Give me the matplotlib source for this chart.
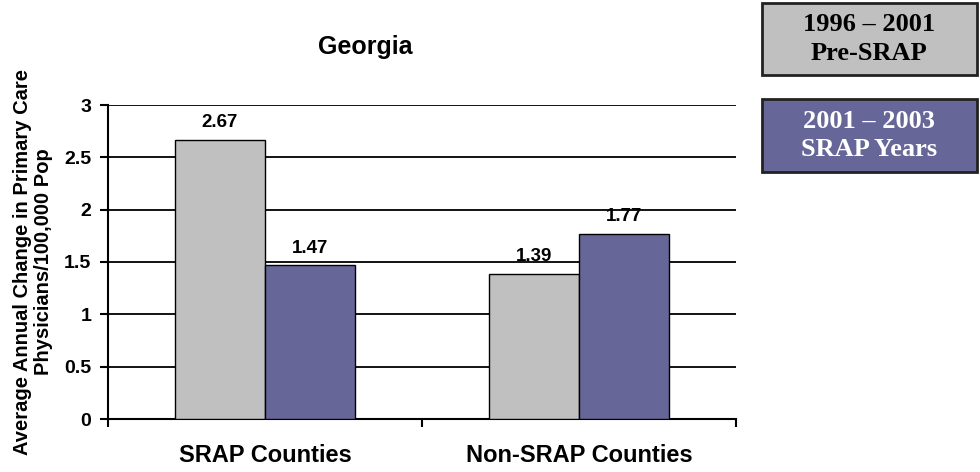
import matplotlib
matplotlib.use('Agg')
import matplotlib.pyplot as plt
import matplotlib.patches as patches
import numpy as np

# Chart data
categories = ['SRAP Counties', 'Non-SRAP Counties']
pre_srap = [2.67, 1.39]
srap_years = [1.47, 1.77]
series_names = ['1996 \u2013 2001\nPre-SRAP', '2001 \u2013 2003\nSRAP Years']
y_ticks = [0, 0.5, 1, 1.5, 2, 2.5, 3]

GRAY = '#C0C0C0'
PURPLE = '#666699'
W, H = 980, 472

plt.rcParams['font.family'] = ['Liberation Sans', 'DejaVu Sans']
plt.rcParams['font.weight'] = 'bold'

fig = plt.figure(figsize=(W / 100, H / 100), dpi=100)
# axes placed in pixel units: left 108, right 736, top 105, bottom 419
ax = fig.add_axes([108 / W, 1 - 419 / H, (736 - 108) / W, (419 - 105) / H])

x = np.arange(len(categories))
bw = 0.287
b1 = ax.bar(x - bw / 2, pre_srap, bw, color=GRAY, edgecolor='black', linewidth=1, zorder=3)
b2 = ax.bar(x + bw / 2, srap_years, bw, color=PURPLE, edgecolor='black', linewidth=1, zorder=3)

for bars, vals in ((b1, pre_srap), (b2, srap_years)):
    for rect, v in zip(bars, vals):
        ax.annotate(f'{v:.2f}', (rect.get_x() + rect.get_width() / 2, v),
                    xytext=(0, 6), textcoords='offset points',
                    ha='center', va='bottom', fontsize=13.5, fontweight='bold')

ax.set_xlim(-0.5, len(categories) - 0.5)
ax.set_ylim(0, 3)
ax.set_yticks(y_ticks)
ax.set_yticklabels([f'{t:g}' for t in y_ticks], fontsize=14, fontweight='bold')
ax.yaxis.grid(True, color='black', linewidth=1.3, zorder=0)
ax.set_axisbelow(True)

# category boundaries get tick marks, centres get the labels
ax.set_xticks(np.arange(len(categories) + 1) - 0.5)
ax.set_xticklabels([])
ax.set_xticks(x, minor=True)
ax.set_xticklabels(categories, minor=True, fontsize=17, fontweight='bold')
ax.tick_params(axis='x', which='minor', length=0, pad=18)
ax.tick_params(axis='x', which='major', length=6, width=1.5, direction='out')
ax.tick_params(axis='y', length=6, width=1.5, direction='out', pad=6)

for s in ('top', 'right'):
    ax.spines[s].set_visible(False)
for s in ('left', 'bottom'):
    ax.spines[s].set_linewidth(1.5)

ax.set_ylabel('Average Annual Change in Primary Care\nPhysicians/100,000 Pop',
              fontsize=14.5, fontweight='bold', labelpad=8, linespacing=1.1)

fig.text(365 / W, 1 - 47 / H, 'Georgia', ha='center', va='center',
         fontsize=18, fontweight='bold')

# legend boxes on the right
for (top, bottom), name, fc, tc in (((3, 75), series_names[0], GRAY, 'black'),
                                    ((99, 172), series_names[1], PURPLE, 'white')):
    rect = patches.Rectangle((762 / W, 1 - bottom / H), (977 - 762) / W, (bottom - top) / H,
                             transform=fig.transFigure, facecolor=fc,
                             edgecolor='#222222', linewidth=2)
    fig.add_artist(rect)
    fig.text(869 / W, 1 - (top + bottom) / 2 / H, name, ha='center', va='center',
             color=tc, fontsize=19, fontweight='bold',
             family=['Liberation Serif', 'DejaVu Serif'], linespacing=1.3)

fig.savefig('out.png', dpi=100)
